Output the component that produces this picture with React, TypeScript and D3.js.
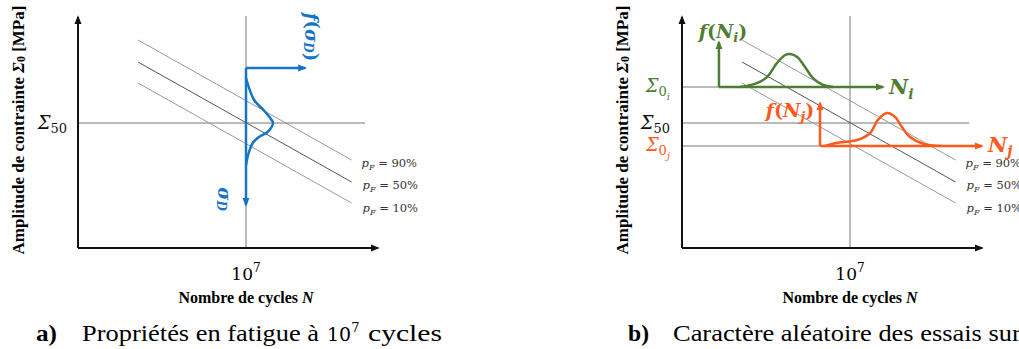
import React from 'react';
import * as d3 from 'd3';

// schematic S-N diagram: x in log10(N), y in stress units
const probLabels = ['90%', '50%', '10%'];
const lineLogN = [4.75, 9.2];
const lineStress = [
  [208, 88],
  [186, 66],
  [165, 45],
];
const refLogN = 7;
const sigma50 = 125;
const sigma0i = 161;
const sigma0j = 102;

// density of the endurance limit (panel a)
const blueStress = [170, 148, 138, 128, 125, 116, 111, 105, 95, 83];
const blueDensity = [0, 0.3, 0.65, 0.95, 1.0, 0.8, 0.48, 0.25, 0.1, 0];
const blueArrowStress = [180, 43];
const blueArrowDensity = 2.2;

// density of the lives at Σ0i (green) and Σ0j (orange)
const greenLogN = [4.71, 5.06, 5.27, 5.48, 5.65, 5.75, 5.9, 6.06, 6.23, 6.44, 6.65];
const greenDensity = [0, 0.12, 0.3, 0.73, 0.97, 1.0, 0.91, 0.61, 0.27, 0.06, 0];
const greenAxisLogN = [4.27, 7.69];
const greenAxisDensity = 1.36;

const orangeLogN = [6.48, 6.71, 7.15, 7.42, 7.58, 7.77, 7.94, 8.08, 8.25, 8.52, 8.9];
const orangeDensity = [0, 0.09, 0.18, 0.39, 0.79, 1.0, 0.88, 0.58, 0.27, 0.07, 0];
const orangeAxisLogN = [6.375, 9.75];
const orangeAxisDensity = 1.3;

const BLUE = '#1474c8';
const GREEN = '#4f7d33';
const ORANGE = '#ff5a1c';
const MATH = "'DejaVu Serif', serif";
const TEXT = "'Liberation Serif', 'Times New Roman', serif";

const W = 1019;
const H = 349;

function Panel({ dx, children, caption }: { dx: number; children: (s: any) => React.ReactNode; caption: React.ReactNode }) {
  const x = d3.scaleLinear().domain([3.5, 9.75]).range([78 + dx, 378 + dx]);
  const y = d3.scaleLinear().domain([0, 232]).range([248, 16]);
  const x0 = x.range()[0];
  const y0 = y.range()[0];
  const line = d3.line<[number, number]>().x(d => x(d[0])).y(d => y(d[1]));

  return (
    <g>
      {/* reference lines */}
      <line x1={x(refLogN)} x2={x(refLogN)} y1={y(232)} y2={y0} stroke="#777" strokeWidth={1} />
      <line x1={x0} x2={x(9.48)} y1={y(sigma50)} y2={y(sigma50)} stroke="#777" strokeWidth={1} />
      {/* S-N curves for three failure probabilities */}
      {lineStress.map((s, i) => (
        <g key={i}>
          <path
            d={line([[lineLogN[0], s[0]], [lineLogN[1], s[1]]]) as string}
            stroke={i === 1 ? '#555' : '#999'}
            strokeWidth={1}
            fill="none"
          />
          <text
            x={x(lineLogN[1]) + 10 + (i === 0 ? 0 : 1)}
            y={y(s[1]) + 7 + (i === 2 ? 2 : 0)}
            fontFamily={MATH}
            fontSize={11.5}
            fill="#333"
          >
            <tspan fontStyle="italic">p</tspan>
            <tspan fontStyle="italic" fontSize={8} dy={3}>F</tspan>
            <tspan dy={-3}>{i === 2 ? ' = ' : '  = '}{probLabels[i]}</tspan>
          </text>
        </g>
      ))}
      {children({ x, y })}
      {/* axes */}
      <line x1={x0} x2={x0} y1={y0} y2={y(232) + 1} stroke="#111" strokeWidth={2} markerEnd="url(#arr-black)" />
      <line x1={x0} x2={x.range()[1]} y1={y0} y2={y0} stroke="#111" strokeWidth={2} markerEnd="url(#arr-black)" />
      <text x={x(refLogN)} y={280} textAnchor="middle" fontFamily={MATH} fontSize={17}>
        10<tspan fontSize={12} dy={-8}>7</tspan>
      </text>
      <text x={x(refLogN)} y={303} textAnchor="middle" fontFamily={TEXT} fontSize={16} fontWeight="bold">
        Nombre de cycles <tspan fontStyle="italic">N</tspan>
      </text>
      <text
        transform={`translate(${x0 - 60},130) rotate(-90)`}
        textAnchor="middle"
        dominantBaseline="central"
        fontFamily={TEXT}
        fontSize={17}
        fontWeight="bold"
      >
        Amplitude de contrainte <tspan fontStyle="italic">Σ</tspan>
        <tspan fontSize={12} dy={3}>0</tspan>
        <tspan dy={-3}> [MPa]</tspan>
      </text>
      {caption}
    </g>
  );
}

function SigmaLabel({ x, y, sub, color, italicSub }: { x: number; y: number; sub: string; color: string; italicSub?: boolean }) {
  return (
    <text x={x} y={y} textAnchor="end" fontFamily={MATH} fontSize={18} fill={color}>
      <tspan fontStyle="italic">Σ</tspan>
      <tspan fontSize={13} dy={4}>{sub[0]}</tspan>
      {sub.length > 1 && italicSub ? (
        <tspan fontSize={10} fontStyle="italic" dy={4}>{sub[1]}</tspan>
      ) : sub.length > 1 ? (
        <tspan fontSize={13}>{sub.slice(1)}</tspan>
      ) : null}
    </text>
  );
}

export default function App() {
  const curve = d3.curveCatmullRom;
  return (
    <svg width={W} height={H} style={{ position: 'absolute', left: 0, top: 0, background: '#fff' }}>
      <defs>
        {[
          ['arr-black', '#111'],
          ['arr-blue', BLUE],
          ['arr-green', GREEN],
          ['arr-orange', ORANGE],
        ].map(([id, c]) => (
          <marker
            key={id}
            id={id}
            viewBox="0 0 10 10"
            refX={8}
            refY={5}
            markerWidth={9}
            markerHeight={9}
            markerUnits="userSpaceOnUse"
            orient="auto"
          >
            <path d="M0,1 L10,5 L0,9 z" fill={c} />
          </marker>
        ))}
      </defs>

      {/* panel a */}
      <Panel
        dx={0}
        caption={
          <g fontFamily={TEXT} fontSize={23}>
            <text x={36} y={341} fontWeight="bold" textLength={21} lengthAdjust="spacingAndGlyphs">a)</text>
            <text x={82} y={341} textLength={237} lengthAdjust="spacingAndGlyphs">Propriétés en fatigue à</text>
            <text x={327} y={341} fontFamily={MATH} fontSize={19}>
              10<tspan fontSize={13} dy={-9}>7</tspan>
            </text>
            <text x={368} y={341} textLength={74} lengthAdjust="spacingAndGlyphs">cycles</text>
          </g>
        }
      >
        {({ x, y }) => {
          const p = d3.scaleLinear().domain([0, 1]).range([0, 27]);
          const xr = x(refLogN);
          const pdf = d3
            .line<number>()
            .x((_, i) => xr + p(blueDensity[i]))
            .y(d => y(d))
            .curve(curve)(blueStress);
          return (
            <g>
              <SigmaLabel x={x.range()[0] - 11} y={y(sigma50) + 6} sub="50" color="#111" />
              <path d={pdf as string} fill="none" stroke={BLUE} strokeWidth={2.5} />
              <line x1={xr} x2={xr} y1={y(blueArrowStress[0])} y2={y(blueArrowStress[1])} stroke={BLUE} strokeWidth={2.5} markerEnd="url(#arr-blue)" />
              <line x1={xr} x2={xr + p(blueArrowDensity)} y1={y(blueArrowStress[0])} y2={y(blueArrowStress[0])} stroke={BLUE} strokeWidth={2.5} markerEnd="url(#arr-blue)" />
              <text transform="translate(312,37) rotate(90)" textAnchor="middle" dominantBaseline="central" fontFamily={MATH} fontSize={18} fontWeight="bold" fill={BLUE}>
                <tspan fontStyle="italic">f</tspan>(<tspan fontStyle="italic">σ</tspan>
                <tspan fontSize={12} fontStyle="italic" dy={4}>D</tspan>
                <tspan dy={-4}>)</tspan>
              </text>
              <text transform="translate(225,199) rotate(90)" textAnchor="middle" dominantBaseline="central" fontFamily={MATH} fontSize={18} fontWeight="bold" fill={BLUE}>
                <tspan fontStyle="italic">σ</tspan>
                <tspan fontSize={12} fontStyle="italic" dy={4}>D</tspan>
              </text>
            </g>
          );
        }}
      </Panel>

      {/* panel b */}
      <Panel
        dx={604}
        caption={
          <g fontFamily={TEXT} fontSize={23}>
            <text x={628} y={341} fontWeight="bold" textLength={21} lengthAdjust="spacingAndGlyphs">b)</text>
            <text transform="translate(673,341) scale(1.15,1)">Caractère aléatoire des essais sur</text>
          </g>
        }
      >
        {({ x, y }) => {
          const p = d3.scaleLinear().domain([0, 1]).range([0, 33]);
          const x0 = x.range()[0];
          const gy = y(sigma0i);
          const oy = y(sigma0j);
          const gPdf = d3
            .line<number>()
            .x(d => x(d))
            .y((_, i) => gy - p(greenDensity[i]))
            .curve(curve)(greenLogN);
          const oPdf = d3
            .line<number>()
            .x(d => x(d))
            .y((_, i) => oy - p(orangeDensity[i]))
            .curve(curve)(orangeLogN);
          return (
            <g>
              <line x1={x0} x2={x(greenAxisLogN[0])} y1={gy} y2={gy} stroke="#777" strokeWidth={1} />
              <line x1={x0} x2={x(orangeAxisLogN[0])} y1={oy} y2={oy} stroke="#777" strokeWidth={1} />
              <SigmaLabel x={x0 - 12} y={gy + 5} sub="0i" color={GREEN} italicSub />
              <SigmaLabel x={x0 - 12} y={y(sigma50) + 6} sub="50" color="#111" />
              <SigmaLabel x={x0 - 12} y={oy + 5} sub="0j" color={ORANGE} italicSub />

              <path d={gPdf as string} fill="none" stroke={GREEN} strokeWidth={2.5} />
              <line x1={x(greenAxisLogN[0])} x2={x(greenAxisLogN[1])} y1={gy} y2={gy} stroke={GREEN} strokeWidth={2.5} markerEnd="url(#arr-green)" />
              <line x1={x(greenAxisLogN[0])} x2={x(greenAxisLogN[0])} y1={gy} y2={gy - p(greenAxisDensity)} stroke={GREEN} strokeWidth={2.5} markerEnd="url(#arr-green)" />
              <text x={723} y={38} textAnchor="middle" fontFamily={MATH} fontSize={19} fontWeight="bold" fill={GREEN}>
                <tspan fontStyle="italic">f</tspan>(<tspan fontStyle="italic">N</tspan>
                <tspan fontSize={13} fontStyle="italic" dy={4}>i</tspan>
                <tspan dy={-4}>)</tspan>
              </text>
              <text x={x(greenAxisLogN[1]) + 6} y={gy + 7} fontFamily={MATH} fontSize={21} fontWeight="bold" fontStyle="italic" fill={GREEN}>
                N<tspan fontSize={14} dy={5}>i</tspan>
              </text>

              <path d={oPdf as string} fill="none" stroke={ORANGE} strokeWidth={2.5} />
              <line x1={x(orangeAxisLogN[0])} x2={x(orangeAxisLogN[1])} y1={oy} y2={oy} stroke={ORANGE} strokeWidth={2.5} markerEnd="url(#arr-orange)" />
              <line x1={x(orangeAxisLogN[0])} x2={x(orangeAxisLogN[0])} y1={oy} y2={oy - p(orangeAxisDensity)} stroke={ORANGE} strokeWidth={2.5} markerEnd="url(#arr-orange)" />
              <text x={790} y={117} textAnchor="middle" fontFamily={MATH} fontSize={19} fontWeight="bold" fill={ORANGE}>
                <tspan fontStyle="italic">f</tspan>(<tspan fontStyle="italic">N</tspan>
                <tspan fontSize={13} fontStyle="italic" dy={4}>j</tspan>
                <tspan dy={-4}>)</tspan>
              </text>
              <text x={x(orangeAxisLogN[1]) + 6} y={oy + 6} fontFamily={MATH} fontSize={21} fontWeight="bold" fontStyle="italic" fill={ORANGE}>
                N<tspan fontSize={14} dy={4}>j</tspan>
              </text>
            </g>
          );
        }}
      </Panel>
    </svg>
  );
}
